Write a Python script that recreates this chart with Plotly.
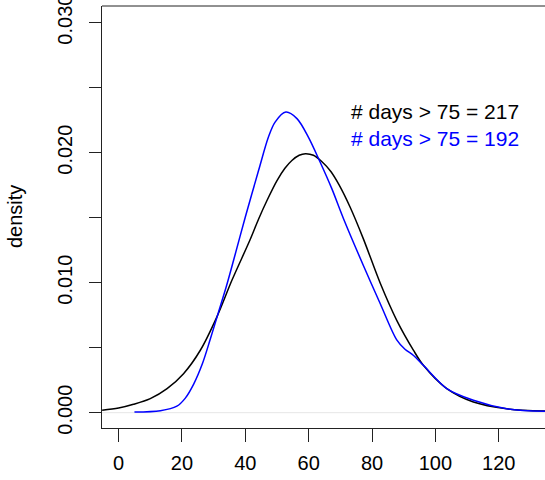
import plotly.graph_objects as go

# Black density curve (all days)
black_x = [-5.2, 0.0, 4.7, 10.0, 15.3, 20.5, 25.8, 31.0, 35.8, 41.5, 44.2, 46.8, 50.0, 52.5, 54.7,
           57.0, 59.0, 61.5, 64.2, 67.0, 69.6, 73.1, 77.3, 82.6, 87.8, 93.1, 96.2, 103.6, 112.0,
           122.5, 134.6]
black_y = [0.00018, 0.00035, 0.00064, 0.00108, 0.00185, 0.0030, 0.0048, 0.00735, 0.0102, 0.0133,
           0.0149, 0.0163, 0.01785, 0.0188, 0.0194, 0.0198, 0.01992, 0.0198, 0.01930, 0.01855,
           0.01752, 0.0158, 0.01335, 0.00995, 0.0071, 0.00479, 0.00364, 0.00185, 0.00082,
           0.0003, 0.00012]

# Blue density curve
blue_x = [5.0, 13.2, 18.4, 21.0, 23.7, 26.5, 29.0, 31.5, 34.0, 36.3, 40.0, 44.2, 47.3, 49.4, 52.8,
          56.3, 59.9, 63.6, 67.3, 71.0, 77.3, 82.6, 87.8, 90.4, 93.1, 96.2, 103.6, 112.0, 122.5, 134.6]
blue_y = [0.00005, 0.00015, 0.0005, 0.0011, 0.0022, 0.0038, 0.0057, 0.0077, 0.0097, 0.01172,
          0.01505, 0.01864, 0.0212, 0.02235, 0.02312, 0.02262, 0.0212, 0.01928, 0.01723, 0.01492,
          0.0113, 0.00838, 0.0056, 0.00488, 0.0044, 0.00364, 0.00185, 0.00095, 0.0003, 0.0001]

x_ticks = [0, 20, 40, 60, 80, 100, 120]
y_ticks = [0.000, 0.005, 0.010, 0.015, 0.020, 0.025, 0.030]
y_tick_text = ["0.000", "", "0.010", "", "0.020", "", "0.030"]

labels = ["# days > 75 = 217", "# days > 75 = 192"]
label_colors = ["#000000", "#0000FF"]

FONT = "Liberation Sans, Arial, sans-serif"
AXC = "#222222"

fig = go.Figure()
fig.add_trace(go.Scatter(x=[-5.24, 134.6], y=[0, 0], mode="lines",
                         line=dict(color="#e6e6e6", width=1), hoverinfo="skip"))
fig.add_trace(go.Scatter(x=black_x, y=black_y, mode="lines",
                         line=dict(color="#000000", width=1.5, shape="spline", smoothing=0.9)))
fig.add_trace(go.Scatter(x=blue_x, y=blue_y, mode="lines",
                         line=dict(color="#0000FF", width=1.5, shape="spline", smoothing=0.9)))

fig.update_layout(
    width=545, height=480,
    margin=dict(l=102, r=0, t=6, b=52, autoexpand=False),
    paper_bgcolor="white", plot_bgcolor="white",
    showlegend=False,
    font=dict(family=FONT, size=20, color="#000000"),
    xaxis=dict(range=[-5.24, 134.6], tickvals=x_ticks, ticktext=[str(v) for v in x_ticks],
               showgrid=False, zeroline=False, showline=True, linecolor=AXC, linewidth=1,
               ticks="outside", ticklen=13, tickcolor=AXC, tickwidth=1, automargin=False,
               tickfont=dict(family=FONT, size=20), ticklabelstandoff=4),
    yaxis=dict(range=[-0.00118, 0.03128], tickvals=y_ticks, ticktext=y_tick_text,
               showgrid=False, zeroline=False, showline=True, linecolor=AXC, linewidth=1,
               ticks="outside", ticklen=12, tickcolor=AXC, tickwidth=1, tickangle=-90,
               tickfont=dict(family=FONT, size=20), ticklabelstandoff=9, automargin=False,
               ticklabeloverflow="allow"),
)
fig.add_shape(type="line", xref="paper", yref="paper", x0=0, x1=1, y0=1, y1=1,
              line=dict(color=AXC, width=1))
fig.add_annotation(text="density", xref="paper", yref="paper", x=(15 - 102) / 443, y=(422 - 211) / 422,
                   showarrow=False, textangle=-90, xanchor="center", yanchor="middle",
                   font=dict(family=FONT, size=20, color="#000000"))
for i, (t, c) in enumerate(zip(labels, label_colors)):
    yc = [105.5, 132.0][i]
    fig.add_annotation(text=t, xref="paper", yref="paper", x=(349 - 102) / 443, y=(422 - yc) / 422,
                       showarrow=False, xanchor="left", yanchor="middle",
                       font=dict(family=FONT, size=21, color=c))

fig.write_html("out.html")
